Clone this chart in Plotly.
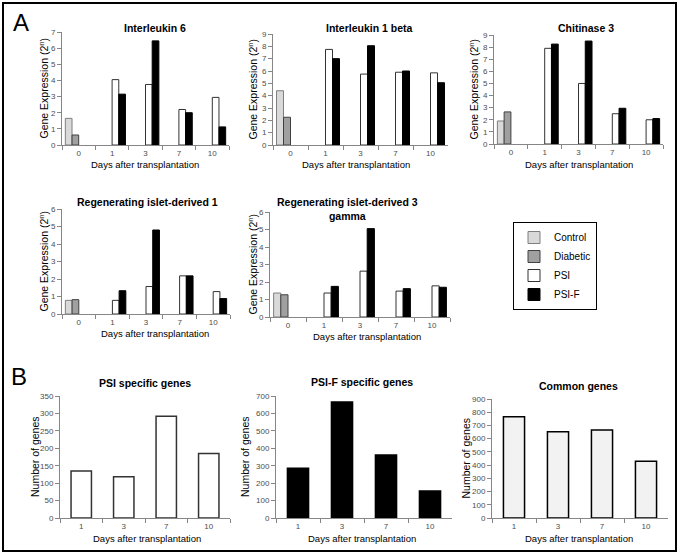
import plotly.graph_objects as go

W, H = 679, 555
FONT = "Liberation Sans, Arial, sans-serif"

# ---- data -------------------------------------------------------------
days_a = ["0", "1", "3", "7", "10"]
days_b = ["1", "3", "7", "10"]

gene_titles = [
    "Interleukin 6",
    "Interleukin 1 beta",
    "Chitinase 3",
    "Regenerating islet-derived 1",
    "Regenerating islet-derived 3<br>gamma",
]

# day 0 values, one per gene
control_day0 = [1.65, 4.4, 1.9, 0.78, 1.37]
diabetic_day0 = [0.62, 2.25, 2.65, 0.82, 1.27]

# days 1, 3, 7, 10
il6_psi = [4.05, 3.75, 2.2, 2.95]
il6_psif = [3.15, 6.45, 2.0, 1.12]
il1b_psi = [7.75, 5.75, 5.9, 5.85]
il1b_psif = [7.0, 8.05, 6.0, 5.05]
chi3_psi = [7.9, 5.0, 2.5, 2.0]
chi3_psif = [8.25, 8.5, 2.95, 2.1]
reg1_psi = [0.78, 1.57, 2.18, 1.28]
reg1_psif = [1.33, 4.8, 2.18, 0.88]
reg3g_psi = [1.37, 2.62, 1.48, 1.78]
reg3g_psif = [1.75, 5.05, 1.62, 1.7]

psi_genes = [135, 118, 292, 185]
psif_genes = [285, 665, 362, 155]
common_genes = [765, 652, 665, 430]

titles_b = ["PSI specific genes", "PSI-F specific genes", "Common genes"]

# ---- layout (pixels) --------------------------------------------------
# x0, x1, ytop, ybottom of each plot area
boxes_a = [(62, 229, 32, 145), (273, 448, 34, 145), (494, 663, 35, 144),
           (62, 230, 209, 314), (270, 450, 212, 317)]
ymax_a = [7, 9, 9, 6, 6]
title_pos_a = [(155, 28), (370, 28), (586, 28), (147, 202), (348, 209)]
ytitle_x_a = [43, 252, 473, 43, 252]
xtitle_pos_a = [(145, 164), (356, 164), (579, 164), (155, 333), (367, 336)]

boxes_b = [(60, 230, 396, 518), (276, 452, 396, 518), (492, 668, 399, 518)]
ymax_b = [350, 700, 900]
dtick_b = [50, 100, 100]
title_pos_b = [(145, 383), (362, 382), (578, 386)]
ytitle_x_b = [35, 245, 465]
xtitle_pos_b = [(147, 538), (362, 538), (579, 538)]


def fx(px):
    return px / W


def fy(py):
    return 1 - py / H


axis_grey = "#868686"
tick_font = dict(family=FONT, size=8, color="#4d4d4d")

fig = go.Figure()
annotations = []


def add_axes(i, box, ymax, dtick):
    x0, x1, yt, yb = box
    sx = "" if i == 1 else str(i)
    fig.layout["xaxis" + sx] = dict(
        domain=[fx(x0), fx(x1)], anchor="y" + sx, type="category",
        showline=True, linecolor=axis_grey, linewidth=1,
        ticks="outside", tickson="boundaries", ticklen=4, tickcolor=axis_grey,
        tickfont=tick_font, showgrid=False, zeroline=False, fixedrange=True,
    )
    fig.layout["yaxis" + sx] = dict(
        domain=[fy(yb), fy(yt)], anchor="x" + sx, range=[0, ymax], dtick=dtick,
        showline=True, linecolor=axis_grey, linewidth=1,
        ticks="outside", ticklen=4, tickcolor=axis_grey,
        tickfont=tick_font, showgrid=False, zeroline=False, fixedrange=True,
    )
    return "x" + sx, "y" + sx


series_a = [
    (il6_psi, il6_psif), (il1b_psi, il1b_psif), (chi3_psi, chi3_psif),
    (reg1_psi, reg1_psif), (reg3g_psi, reg3g_psif),
]

for k in range(5):
    xa, ya = add_axes(k + 1, boxes_a[k], ymax_a[k], 1)
    psi, psif = series_a[k]
    cols = [
        ("Control", [control_day0[k]] + [None] * 4, "#d9d9d9", "#7f7f7f"),
        ("Diabetic", [diabetic_day0[k]] + [None] * 4, "#a0a0a0", "#404040"),
        ("PSI", [None] + psi, "white", "#333333"),
        ("PSI-F", [None] + psif, "black", "black"),
    ]
    for name, vals, fill, edge in cols:
        fig.add_trace(go.Bar(
            x=days_a, y=vals, name=name, xaxis=xa, yaxis=ya,
            marker=dict(color=fill, line=dict(color=edge, width=1)),
            showlegend=(k == 0), hoverinfo="skip",
        ))
    cx, cy = title_pos_a[k]
    annotations.append(dict(x=fx(cx), y=fy(cy), text="<b>" + gene_titles[k] + "</b>",
                            font=dict(size=10.5)))
    x0, x1, yt, yb = boxes_a[k]
    annotations.append(dict(x=fx(ytitle_x_a[k]), y=fy((yt + yb) / 2),
                            text="Gene Expression (2<sup>n</sup>)", textangle=-90,
                            font=dict(size=10.5)))
    tx, ty = xtitle_pos_a[k]
    annotations.append(dict(x=fx(tx), y=fy(ty), text="Days after transplantation",
                            font=dict(size=9.5)))

values_b = [psi_genes, psif_genes, common_genes]
fills_b = ["white", "black", "#f2f2f2"]
edges_b = ["#333333", "black", "black"]

for k in range(3):
    xa, ya = add_axes(k + 6, boxes_b[k], ymax_b[k], dtick_b[k])
    fig.add_trace(go.Bar(
        x=days_b, y=values_b[k], xaxis=xa, yaxis=ya, width=0.48,
        marker=dict(color=fills_b[k], line=dict(color=edges_b[k], width=1.5)),
        showlegend=False, hoverinfo="skip",
    ))
    cx, cy = title_pos_b[k]
    annotations.append(dict(x=fx(cx), y=fy(cy), text="<b>" + titles_b[k] + "</b>",
                            font=dict(size=10.5)))
    x0, x1, yt, yb = boxes_b[k]
    annotations.append(dict(x=fx(ytitle_x_b[k]), y=fy((yt + yb) / 2),
                            text="Number of genes", textangle=-90,
                            font=dict(size=10.5)))
    tx, ty = xtitle_pos_b[k]
    annotations.append(dict(x=fx(tx), y=fy(ty), text="Days after transplantation",
                            font=dict(size=9.5)))

# panel letters
annotations.append(dict(x=fx(21), y=fy(22), text="A", font=dict(size=24)))
annotations.append(dict(x=fx(19), y=fy(376), text="B", font=dict(size=24)))

for a in annotations:
    a.update(xref="paper", yref="paper", showarrow=False,
             xanchor="center", yanchor="middle")
    a["font"].update(family=FONT, color="black")

fig.update_layout(
    width=W, height=H,
    margin=dict(l=0, r=0, t=0, b=0, autoexpand=False),
    paper_bgcolor="white", plot_bgcolor="white",
    font=dict(family=FONT, color="black"),
    barmode="group", bargap=0.2, bargroupgap=0,
    annotations=annotations,
    legend=dict(
        x=fx(513), y=fy(222), xanchor="left", yanchor="top",
        bordercolor="black", borderwidth=1, bgcolor="white",
        font=dict(family=FONT, size=10, color="black"),
        itemwidth=30, tracegroupgap=0,
    ),
    shapes=[dict(type="rect", xref="paper", yref="paper",
                 x0=fx(3), x1=fx(676), y0=fy(551), y1=fy(3),
                 line=dict(color="black", width=2))],
)

# drop the default page margin so the figure sits at the window's corner
fig.write_html(
    "out.html",
    config={"displayModeBar": False},
    post_script="document.body.style.margin='0';",
)
